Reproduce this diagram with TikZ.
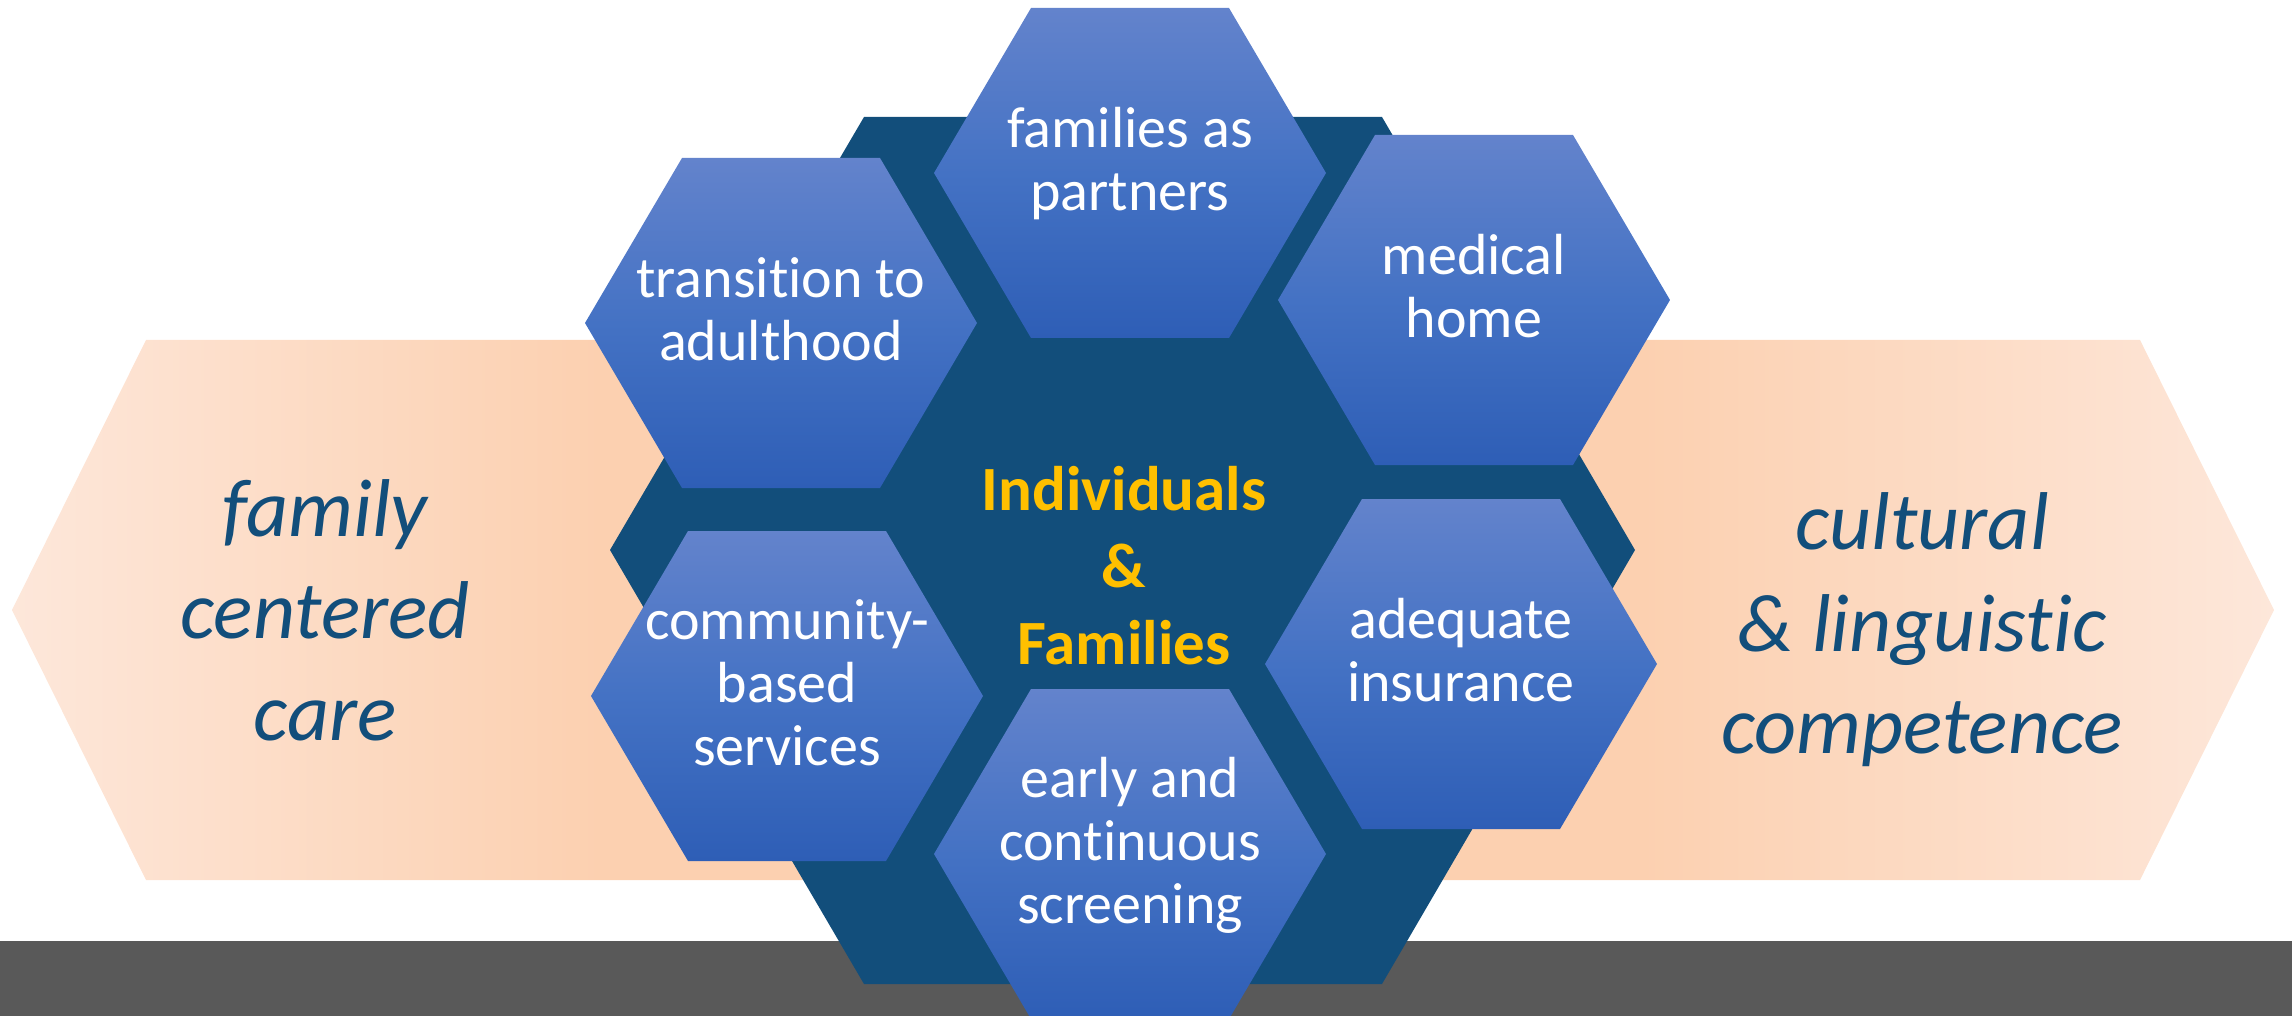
\documentclass[tikz,border=0pt]{standalone}
\usepackage{fontspec}
\setmainfont{Carlito}[Ligatures=NoCommon]
\definecolor{hexdark}{RGB}{18,78,123}
\definecolor{hextop}{RGB}{99,131,204}
\definecolor{hexmid}{RGB}{68,114,196}
\definecolor{hexbot}{RGB}{46,94,182}
\definecolor{olight}{RGB}{253,231,218}
\definecolor{odark}{RGB}{252,208,176}
\definecolor{goldtext}{RGB}{255,192,0}
\definecolor{bargray}{RGB}{89,89,89}
\definecolor{sidetext}{RGB}{18,78,123}
\pgfdeclarehorizontalshading{orangeband}{100bp}{color(0bp)=(olight); color(25bp)=(olight); color(38bp)=(odark); color(61bp)=(odark); color(75bp)=(olight); color(100bp)=(olight)}
\tikzset{
  smallhex/.style={top color=hextop, bottom color=hexbot, middle color=hexmid},
  hextext/.style={inner sep=0pt, anchor=base, text=white, font=\fontsize{58}{63}\selectfont},
  coretext/.style={inner sep=0pt, anchor=base, text=goldtext, font=\fontsize{63}{77}\selectfont\bfseries},
  sidelabel/.style={inner sep=0pt, anchor=base, text=sidetext, font=\fontsize{82}{102}\selectfont\itshape},
}
\newcommand{\hexshape}[2]{%
  \path[smallhex, shift={(#1,#2)}] (-196,0) -- (-99,-165) -- (99,-165) -- (196,0) -- (99,165) -- (-99,165) -- cycle;}
\newcommand{\ctext}[1]{\parbox[t]{600pt}{\centering #1}}
\begin{document}
\begin{tikzpicture}[x=1pt,y=-1pt]
\useasboundingbox (0,0) rectangle (2292,1016);
\clip (0,0) rectangle (2292,1016);
% bottom bar
\fill[bargray] (0,941) rectangle (2292,1016);
% orange band
\path[shading=orangeband] (12,610) -- (146,340) -- (2140,340) -- (2274,610) -- (2140,880) -- (146,880) -- cycle;
% central hexagon
\fill[hexdark] (610,550) -- (864,117) -- (1382,117) -- (1635,550) -- (1382,984) -- (864,984) -- cycle;
% small hexagons
\hexshape{1130}{173}
\hexshape{781}{323}
\hexshape{1474}{300}
\hexshape{787}{696}
\hexshape{1461}{664}
\hexshape{1130}{854}
% texts
\node[hextext] (fam) at (1130,148) {\ctext{families as\\partners}};
\node[hextext] (trans) at (781,298) {\ctext{transition to\\adulthood}};
\node[hextext] (med) at (1474,275) {\ctext{medical\\home}};
\node[hextext] (comm) at (787,639) {\ctext{community-\\based\\services}};
\node[hextext] (ins) at (1461,638) {\ctext{adequate\\insurance}};
\node[hextext] (screen) at (1130,797) {\ctext{early and\\continuous\\screening}};
\node[coretext] (core) at (1124,510) {\ctext{Individuals\\\&\\Families}};
\node[sidelabel] (fcc) at (325,536) {\ctext{family\\centered\\care}};
\node[sidelabel] (clc) at (1922,549) {\ctext{cultural\\\& linguistic\\competence}};
\end{tikzpicture}
\end{document}
